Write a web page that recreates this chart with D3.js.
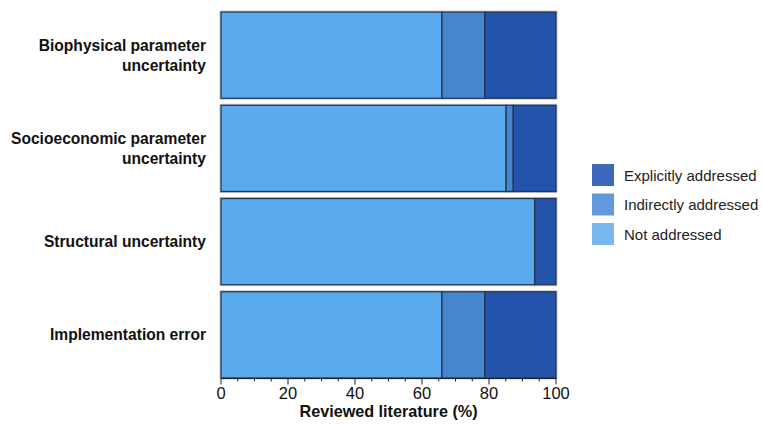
<!DOCTYPE html>
<html><head><meta charset="utf-8">
<script src="https://cdn.jsdelivr.net/npm/d3@7"></script>
<style>body{margin:0;background:#fff;} svg{display:block;font-family:"Liberation Sans",Arial,Helvetica,sans-serif;}</style>
</head><body><svg id="c" width="763" height="425"></svg>
<script>
const categories = [["Biophysical parameter","uncertainty"],["Socioeconomic parameter","uncertainty"],["Structural uncertainty"],["Implementation error"]];
const notAddressed = [65.96, 85.11, 93.62, 65.96];
const indirectly = [12.77, 2.13, 0, 12.77];
const explicitly = [21.28, 12.77, 6.38, 21.28];
const seriesNames = ["Not addressed","Indirectly addressed","Explicitly addressed"];
const barColors = ["#5aabed","#4586d1","#2353ab"];
const legendNames = ["Explicitly addressed","Indirectly addressed","Not addressed"];
const legendColors = ["#3d68bb","#6299dc","#7ab7ee"];
const xTicks = [0,20,40,60,80,100];

const svg = d3.select("#c");
const x = d3.scaleLinear().domain([0,100]).range([221,556]);
const y = d3.scaleBand().domain(d3.range(categories.length)).range([8.5,381.5]).paddingInner(7/93).paddingOuter(3.5/93);

const data = categories.map((c,i)=>({i, vals:[notAddressed[i],indirectly[i],explicitly[i]]}));
data.forEach(d=>{
  let cum=0;
  const g = svg.append("g");
  g.append("rect").attr("x",x(0)-1).attr("y",y(d.i)-1).attr("width",x(100)-x(0)+2).attr("height",y.bandwidth()+2)
    .attr("fill","none").attr("stroke","#c8c8c8").attr("stroke-width",1);
  d.vals.forEach((v,k)=>{
    if(v<=0){return;}
    g.append("rect").attr("x",x(cum)).attr("y",y(d.i)).attr("width",x(cum+v)-x(cum)).attr("height",y.bandwidth())
      .attr("fill",barColors[k]).attr("stroke","#243650").attr("stroke-width",1.3);
    cum+=v;
  });
});

categories.forEach((c,i)=>{
  const cy = y(i)+y.bandwidth()/2;
  const t = svg.append("text").attr("text-anchor","end").attr("font-weight","bold").attr("font-size",15.6).attr("fill","#111");
  const n = c.length;
  c.forEach((line,j)=>{
    t.append("tspan").attr("x",206).attr("y",cy + (j-(n-1)/2)*20 + 5.5).text(line);
  });
});

const axisG = svg.append("g").attr("transform","translate(0,378.5)");
axisG.append("line").attr("x1",x(0)).attr("x2",x(100)).attr("stroke","#222").attr("stroke-width",1);
d3.range(0,101,5).forEach(v=>{
  const major = v%20===0;
  axisG.append("line").attr("x1",x(v)).attr("x2",x(v)).attr("y1",0).attr("y2",major?6:3).attr("stroke","#222").attr("stroke-width",1);
});
xTicks.forEach(v=>{
  axisG.append("text").attr("x",x(v)).attr("y",20).attr("text-anchor","middle").attr("font-size",16.5).attr("fill","#111").text(v);
});
svg.append("text").attr("x",(x(0)+x(100))/2).attr("y",417).attr("text-anchor","middle").attr("font-weight","bold").attr("font-size",16.2).attr("fill","#111").text("Reviewed literature (%)");

legendNames.forEach((n,i)=>{
  const ly = 164 + i*29.5;
  svg.append("rect").attr("x",592).attr("y",ly).attr("width",22).attr("height",22).attr("fill",legendColors[i]);
  svg.append("text").attr("x",624).attr("y",ly+16.5).attr("font-size",15).attr("fill","#222").text(n);
});
</script></body></html>
